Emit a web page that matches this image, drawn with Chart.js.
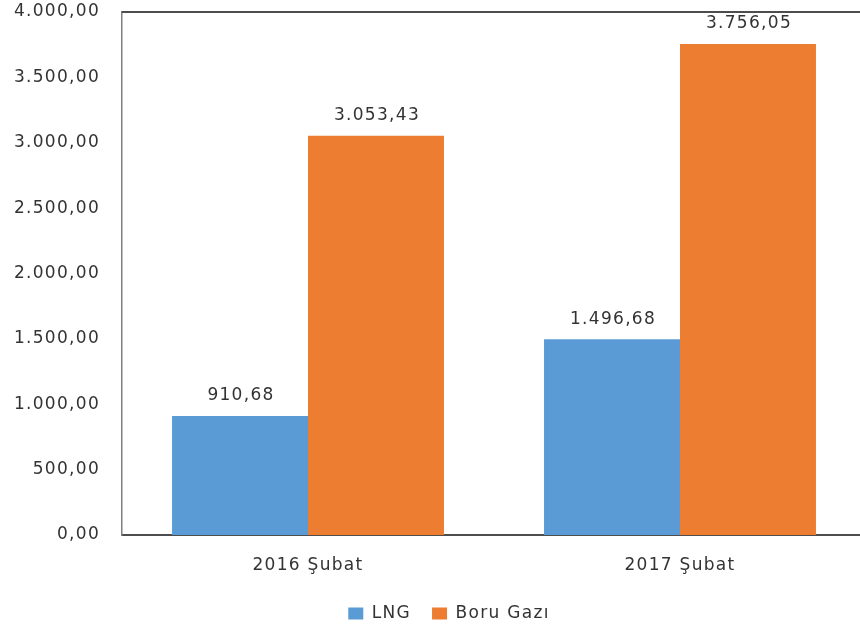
<!DOCTYPE html>
<html>
<head>
<meta charset="utf-8">
<script src="https://cdn.jsdelivr.net/npm/chart.js@4/dist/chart.umd.min.js"></script>
<style>
  html, body { margin: 0; padding: 0; background: #fff; }
  #wrap { width: 860px; height: 629px; }
</style>
</head>
<body>
<div id="wrap"><canvas id="myChart"></canvas></div>
<script>
// data
var categories = ["2016 Şubat", "2017 Şubat"];
var lngValues = [910.68, 1496.68];
var boruValues = [3053.43, 3756.05];
var seriesNames = ["LNG", "Boru Gazı"];
var yTicks = [0, 500, 1000, 1500, 2000, 2500, 3000, 3500, 4000];

var textColor = '#333333';
var fontFamily = '"DejaVu Sans", Verdana, sans-serif';
var fontSize = 17;
var spacing = '1.3px'; // the excel text looks stretched wide

// turkish number format 1.234,56
function fmt(v) {
    var parts = v.toFixed(2).split('.');
    var intPart = parts[0].replace(/\B(?=(\d{3})+(?!\d))/g, '.');
    return intPart + ',' + parts[1];
}

// wider letters for every text drawn on the canvas
var spacingPlugin = {
    id: 'spacing',
    beforeUpdate: function(chart) { chart.ctx.letterSpacing = spacing; },
    beforeDraw: function(chart) { chart.ctx.letterSpacing = spacing; },
    afterLayout: function(chart) {
        // excel legend sits a bit right of centre
        chart.legend.left += 19;
        chart.legend.right += 19;
        // plot area runs a few px past the right edge in the original
        var x = chart.scales.x;
        x.right += 6;
        x.width += 6;
        chart.chartArea.right += 6;
        chart.chartArea.width += 6;
        x.configure();
    }
};

// value labels over bars + top frame line
var labelPlugin = {
    id: 'barLabels',
    afterDatasetsDraw: function(chart) {
        var ctx = chart.ctx;
        ctx.save();
        ctx.font = fontSize + 'px ' + fontFamily;
        ctx.fillStyle = textColor;
        ctx.textAlign = 'center';
        ctx.textBaseline = 'middle';
        chart.data.datasets.forEach(function(ds, i) {
            var meta = chart.getDatasetMeta(i);
            meta.data.forEach(function(bar, j) {
                ctx.fillText(fmt(ds.data[j]), bar.x + 1, bar.y - 20);
            });
        });
        // top border of plot area
        var a = chart.chartArea;
        ctx.strokeStyle = '#4d4d4d';
        ctx.lineWidth = 2;
        ctx.beginPath();
        ctx.moveTo(a.left, a.top);
        ctx.lineTo(a.right, a.top);
        ctx.stroke();
        ctx.restore();
    }
};

var ctx = document.getElementById('myChart').getContext('2d');
var chart = new Chart(ctx, {
    type: 'bar',
    data: {
        labels: categories,
        datasets: [{
            label: seriesNames[0],
            backgroundColor: '#5B9BD5',
            data: lngValues
        }, {
            label: seriesNames[1],
            backgroundColor: '#ED7D31',
            data: boruValues
        }]
    },
    options: {
        responsive: true,
        maintainAspectRatio: false,
        animation: false,
        layout: { padding: { top: 12, right: 0, bottom: -3, left: 0 } },
        datasets: {
            bar: { categoryPercentage: 0.731, barPercentage: 1.0 }
        },
        scales: {
            x: {
                grid: { display: false, drawTicks: false },
                border: { display: true, color: '#4d4d4d', width: 2 },
                ticks: {
                    color: textColor,
                    font: { size: fontSize, family: fontFamily },
                    padding: 20
                },
                afterFit: function(scale) {
                    scale.height = 49;
                    scale.paddingLeft = 0;
                    scale.paddingRight = 0;
                }
            },
            y: {
                min: 0,
                max: yTicks[yTicks.length - 1],
                grid: { display: false, drawTicks: false },
                border: { display: true, color: '#7f7f7f', width: 1.5 },
                afterBuildTicks: function(scale) {
                    scale.ticks = yTicks.map(function(v) { return { value: v }; });
                },
                ticks: {
                    color: textColor,
                    font: { size: fontSize, family: fontFamily },
                    padding: 22,
                    callback: function(v) { return fmt(v); }
                },
                afterFit: function(scale) {
                    scale.width = 122;
                    scale.paddingTop = 0;
                    scale.paddingBottom = 0;
                }
            }
        },
        plugins: {
            legend: {
                position: 'bottom',
                labels: {
                    color: textColor,
                    font: { size: fontSize, family: fontFamily },
                    boxWidth: 15,
                    boxHeight: 12,
                    padding: 21
                }
            },
            tooltip: { enabled: false }
        }
    },
    plugins: [spacingPlugin, labelPlugin]
});
</script>
</body>
</html>
